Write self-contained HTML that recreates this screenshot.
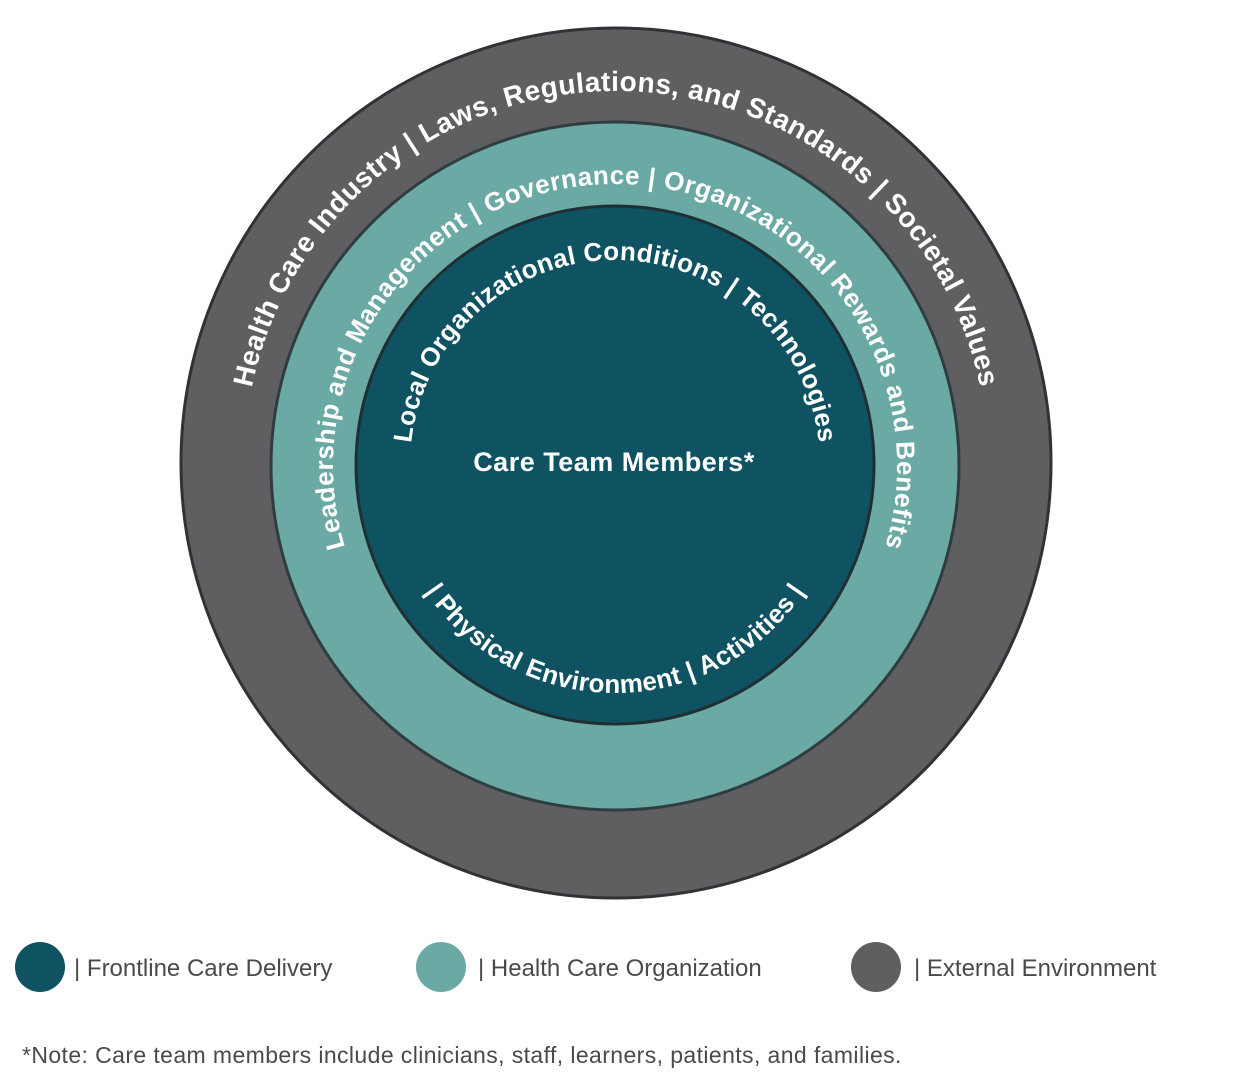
<!DOCTYPE html>
<html><head><meta charset="utf-8"><style>
body{margin:0;background:#fff;}
svg{display:block}
</style></head><body>
<svg width="1240" height="1092" viewBox="0 0 1240 1092" xmlns="http://www.w3.org/2000/svg" font-family="Liberation Sans, sans-serif">
<defs>
<path id="po" d="M 616 835 A 372 372 0 1 1 616.1 835"/>
<path id="pm" d="M 615 748 A 282 282 0 1 1 615.1 748"/>
<path id="pi" d="M 615 670 A 205 205 0 1 1 615.1 670"/>
<path id="pb" d="M 387 465 A 228 228 0 0 0 843 465"/>
</defs>
<circle cx="616" cy="463" r="435" fill="#5f5f61" stroke="#2f3335" stroke-width="3"/>
<circle cx="615" cy="466" r="344" fill="#6ba9a4" stroke="#2f3d40" stroke-width="3"/>
<circle cx="615" cy="465" r="259" fill="#0f5261" stroke="#1f3035" stroke-width="3"/>
<g fill="#fff" font-weight="bold">
<text font-size="28" letter-spacing="0.5"><textPath href="#po" startOffset="50%" text-anchor="middle">Health Care Industry | Laws, Regulations, and Standards | Societal Values</textPath></text>
<text font-size="26" letter-spacing="0.5"><textPath href="#pm" startOffset="50%" text-anchor="middle">Leadership and Management | Governance | Organizational Rewards and Benefits</textPath></text>
<text font-size="26" letter-spacing="0.3"><textPath href="#pi" startOffset="50%" text-anchor="middle">Local Organizational Conditions | Technologies</textPath></text>
<text font-size="26" letter-spacing="0.3"><textPath href="#pb" startOffset="50%" text-anchor="middle">| Physical Environment | Activities |</textPath></text>
<text x="614" y="471" font-size="27" text-anchor="middle" letter-spacing="0.5">Care Team Members*</text>
</g>
<circle cx="40" cy="967" r="25" fill="#0f5261"/>
<circle cx="441" cy="967" r="25" fill="#6ba9a4"/>
<circle cx="876" cy="967" r="25" fill="#5f5f61"/>
<g fill="#4a4a4c" font-size="24">
<text x="74" y="976">| Frontline Care Delivery</text>
<text x="478" y="976">| Health Care Organization</text>
<text x="914" y="976">| External Environment</text>
<text x="22" y="1063" font-size="23" letter-spacing="0.4">*Note: Care team members include clinicians, staff, learners, patients, and families.</text>
</g>
</svg>
</body></html>
